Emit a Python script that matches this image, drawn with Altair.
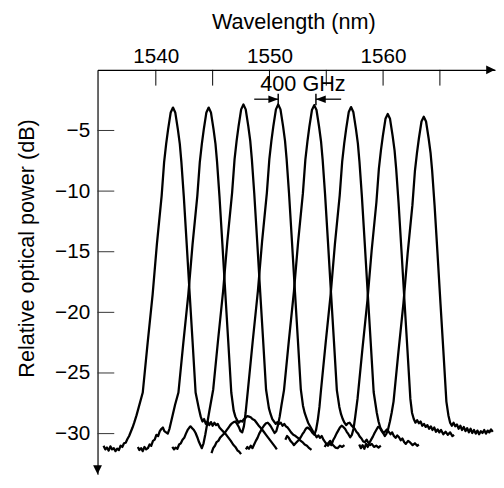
import altair as alt
import pandas as pd

# ---------------- data ----------------
# channel centre wavelengths (nm) and peak levels (dB)
centers = [1541.51, 1544.65, 1547.71, 1550.77, 1553.94, 1557.18, 1560.41, 1563.58]
peaks = [-3.11, -3.11, -2.86, -2.86, -2.91, -3.07, -3.64, -3.86]

# passband skirt: offset from centre (nm) -> drop below peak (dB)
left_off = [-2.66, -2.23, -1.79, -1.42, -1.00, -0.78, -0.60, -0.43, -0.20, 0.00]
left_drop = [23.5, 19.4, 15.4, 11.3, 7.3, 4.5, 3.0, 1.8, 0.4, 0.0]
right_off = [0.20, 0.43, 0.60, 0.74, 0.95, 1.21, 1.47, 1.73, 1.99]
right_drop = [0.4, 1.8, 3.0, 4.5, 7.3, 11.3, 15.4, 19.4, 23.5]

# noise-floor parts of each trace (wavelength nm, dB)
ch1_left = [(1535.40, -31.0), (1535.55, -31.3), (1535.70, -31.15), (1535.85, -31.4), (1536.00, -31.05),
            (1536.15, -31.3), (1536.30, -31.2), (1536.45, -31.45), (1536.60, -31.25), (1536.75, -31.35),
            (1536.90, -31.0), (1537.05, -31.1), (1537.20, -30.8), (1537.35, -30.75), (1537.50, -30.45),
            (1537.65, -30.2), (1537.80, -29.85), (1537.95, -29.5), (1538.10, -29.1), (1538.30, -28.5)]
ch1_right = [(1543.80, -28.0), (1543.95, -28.6), (1544.10, -29.0), (1544.25, -28.8), (1544.40, -29.2),
             (1544.55, -29.0), (1544.70, -29.3), (1544.85, -29.05), (1545.00, -29.35), (1545.15, -29.1),
             (1545.30, -29.3), (1545.45, -29.2), (1545.60, -29.5), (1545.80, -29.7), (1546.00, -29.9),
             (1546.20, -30.1), (1546.40, -30.35), (1546.60, -30.6), (1546.80, -30.9), (1547.00, -31.1),
             (1547.20, -31.4), (1547.35, -31.5), (1547.50, -31.7)]
ch2_left = [(1538.42, -31.1), (1538.55, -31.35), (1538.70, -31.2), (1538.85, -31.45), (1539.00, -31.1),
            (1539.15, -31.3), (1539.30, -31.2), (1539.45, -30.9), (1539.60, -31.0), (1539.75, -30.6),
            (1539.90, -30.5), (1540.05, -30.1), (1540.20, -30.2), (1540.35, -29.8), (1540.50, -29.6),
            (1540.62, -29.5), (1540.75, -29.8), (1540.90, -29.9), (1541.05, -30.0), (1541.20, -29.6),
            (1541.35, -29.0), (1541.50, -28.4), (1541.70, -27.6)]
ch2_right = [(1546.85, -28.1), (1547.00, -28.6), (1547.15, -28.9), (1547.30, -29.1), (1547.45, -28.95),
             (1547.60, -29.0), (1547.75, -28.8), (1547.90, -28.7), (1548.05, -28.55), (1548.20, -28.6),
             (1548.35, -28.65), (1548.50, -28.8), (1548.70, -28.9), (1548.90, -29.15), (1549.10, -29.4),
             (1549.30, -29.6), (1549.50, -29.85), (1549.70, -30.1), (1549.90, -30.35), (1550.10, -30.6),
             (1550.30, -30.85), (1550.50, -31.1), (1550.65, -31.3)]
ch3_left = [(1541.45, -31.1), (1541.60, -31.3), (1541.75, -31.15), (1541.90, -31.25), (1542.05, -30.9),
            (1542.20, -30.8), (1542.35, -30.5), (1542.50, -30.35), (1542.65, -30.0), (1542.80, -29.7),
            (1542.95, -29.5), (1543.05, -29.4), (1543.20, -29.55), (1543.35, -29.7), (1543.50, -29.95),
            (1543.65, -30.3), (1543.80, -30.7), (1543.95, -31.0), (1544.05, -31.2), (1544.20, -30.8),
            (1544.35, -30.1), (1544.50, -29.3), (1544.70, -28.2)]
ch3_right = [(1549.95, -27.9), (1550.10, -28.4), (1550.25, -28.8), (1550.40, -29.0), (1550.55, -29.2),
             (1550.70, -29.05), (1550.85, -29.2), (1551.00, -29.1), (1551.15, -29.35), (1551.30, -29.2),
             (1551.45, -29.4), (1551.60, -29.5), (1551.75, -29.7), (1551.90, -29.9), (1552.10, -30.1),
             (1552.30, -30.2), (1552.50, -30.35), (1552.70, -30.55), (1552.90, -30.7), (1553.10, -30.9),
             (1553.30, -31.0), (1553.50, -31.2), (1553.70, -31.35)]
ch4_left = [(1544.90, -31.6), (1545.05, -31.2), (1545.20, -31.0), (1545.35, -30.7), (1545.50, -30.6),
            (1545.65, -30.35), (1545.80, -30.2), (1545.95, -30.05), (1546.10, -29.9), (1546.25, -29.7),
            (1546.40, -29.5), (1546.55, -29.3), (1546.70, -29.15), (1546.85, -29.05), (1547.00, -29.0),
            (1547.15, -29.2), (1547.30, -29.45), (1547.45, -29.8), (1547.60, -29.9), (1547.75, -29.4),
            (1547.90, -28.3)]
ch4_right = [(1552.95, -27.7), (1553.10, -28.3), (1553.25, -28.7), (1553.40, -29.1), (1553.55, -29.35),
             (1553.70, -29.6), (1553.85, -29.85), (1554.00, -30.05), (1554.15, -30.3), (1554.30, -30.15),
             (1554.45, -30.35), (1554.60, -30.2), (1554.75, -30.5), (1554.90, -30.7), (1555.05, -30.9),
             (1555.20, -30.75), (1555.35, -30.6), (1555.50, -30.85), (1555.65, -31.0), (1555.80, -31.15),
             (1556.00, -31.2), (1556.20, -31.0), (1556.40, -31.1), (1556.60, -30.95)]
ch5_left = [(1547.93, -31.3), (1548.05, -31.1), (1548.20, -31.25), (1548.35, -31.0), (1548.50, -31.2),
            (1548.65, -30.9), (1548.80, -30.6), (1548.95, -30.35), (1549.10, -30.0), (1549.25, -29.75),
            (1549.40, -29.5), (1549.55, -29.3), (1549.70, -29.15), (1549.85, -29.1), (1550.00, -29.25),
            (1550.15, -29.45), (1550.30, -29.7), (1550.45, -29.95), (1550.60, -29.8), (1550.75, -29.3),
            (1550.90, -28.6), (1551.05, -27.7)]
ch5_right = [(1556.15, -27.8), (1556.30, -28.4), (1556.45, -28.8), (1556.60, -29.1), (1556.75, -29.3),
             (1556.90, -29.15), (1557.05, -29.1), (1557.20, -29.3), (1557.35, -29.45), (1557.50, -29.6),
             (1557.65, -29.85), (1557.80, -30.0), (1557.95, -30.25), (1558.10, -30.4), (1558.25, -30.65),
             (1558.40, -30.7), (1558.55, -30.5), (1558.70, -30.75), (1558.85, -30.95), (1559.00, -30.85),
             (1559.20, -31.1), (1559.40, -31.0), (1559.60, -31.15), (1559.80, -31.0)]
ch6_left = [(1551.40, -30.5), (1551.55, -30.2), (1551.70, -30.35), (1551.85, -30.6), (1552.00, -30.75),
            (1552.15, -30.95), (1552.30, -30.8), (1552.45, -30.65), (1552.60, -30.5), (1552.75, -30.3),
            (1552.90, -30.05), (1553.05, -29.85), (1553.20, -29.6), (1553.35, -29.5), (1553.50, -29.6),
            (1553.65, -29.75), (1553.80, -29.95), (1553.95, -30.1), (1554.10, -29.7), (1554.25, -28.9),
            (1554.40, -27.8)]
ch6_right = [(1559.45, -28.3), (1559.60, -29.0), (1559.75, -29.5), (1559.90, -29.75), (1560.05, -29.95),
             (1560.20, -29.8), (1560.35, -29.65), (1560.50, -29.85), (1560.65, -30.05), (1560.80, -29.9),
             (1560.95, -30.2), (1561.10, -30.35), (1561.25, -30.15), (1561.40, -30.3), (1561.55, -30.55),
             (1561.70, -30.4), (1561.85, -30.7), (1562.00, -30.85), (1562.20, -30.6), (1562.40, -30.75),
             (1562.60, -30.95), (1562.80, -30.8), (1563.00, -31.0), (1563.15, -30.9)]
ch7_left = [(1554.86, -31.1), (1555.00, -30.85), (1555.15, -31.0), (1555.30, -30.8), (1555.45, -30.95),
            (1555.60, -30.55), (1555.75, -30.3), (1555.90, -30.0), (1556.05, -29.75), (1556.20, -29.5),
            (1556.35, -29.35), (1556.50, -29.45), (1556.65, -29.6), (1556.80, -29.85), (1556.95, -30.05),
            (1557.10, -30.3), (1557.25, -30.1), (1557.40, -29.6), (1557.55, -28.6)]
ch7_right = [(1562.55, -28.3), (1562.70, -28.8), (1562.85, -29.1), (1563.00, -28.9), (1563.15, -29.15),
             (1563.30, -29.0), (1563.45, -29.35), (1563.60, -29.2), (1563.75, -29.45), (1563.90, -29.3),
             (1564.05, -29.6), (1564.20, -29.4), (1564.35, -29.7), (1564.50, -29.5), (1564.65, -29.85),
             (1564.80, -29.65), (1564.95, -29.9), (1565.10, -29.7), (1565.30, -30.05), (1565.50, -29.85),
             (1565.70, -30.1), (1565.90, -29.9), (1566.10, -30.2), (1566.25, -30.1)]
ch8_left = [(1557.90, -30.9), (1558.05, -31.2), (1558.20, -30.95), (1558.35, -31.25), (1558.50, -30.85),
            (1558.65, -31.1), (1558.80, -30.75), (1558.95, -30.5), (1559.10, -30.25), (1559.25, -29.95),
            (1559.40, -29.7), (1559.55, -29.45), (1559.70, -29.5), (1559.85, -29.75), (1560.00, -29.95),
            (1560.15, -30.2), (1560.30, -30.0), (1560.45, -29.6), (1560.60, -29.0), (1560.75, -28.3)]
ch8_right = [(1565.75, -28.5), (1565.90, -29.1), (1566.05, -29.35), (1566.20, -29.1), (1566.35, -29.4),
             (1566.50, -29.25), (1566.65, -29.6), (1566.80, -29.35), (1566.95, -29.7), (1567.10, -29.45),
             (1567.25, -29.8), (1567.40, -29.55), (1567.55, -29.9), (1567.70, -29.6), (1567.85, -29.95),
             (1568.00, -29.7), (1568.15, -30.0), (1568.30, -29.75), (1568.45, -30.05), (1568.60, -29.8),
             (1568.75, -29.95), (1568.90, -29.7), (1569.05, -30.0), (1569.20, -29.75), (1569.35, -29.9),
             (1569.50, -29.65), (1569.65, -29.85)]

floors_left = [ch1_left, ch2_left, ch3_left, ch4_left, ch5_left, ch6_left, ch7_left, ch8_left]
floors_right = [ch1_right, ch2_right, ch3_right, ch4_right, ch5_right, ch6_right, ch7_right, ch8_right]

# axis ticks
x_ticks = [1540, 1545, 1550, 1555, 1560, 1565]
x_labels = [1540, 1550, 1560]
y_ticks = [-5, -10, -15, -20, -25, -30]

# "400 GHz" annotation
ann_text = "400 GHz"
ann_text_wl, ann_text_db = 1552.95, -1.78
ann_arrow_db = -2.42
ann_bar_top, ann_bar_bot = -1.97, -2.91
ann_left_from, ann_left_to = 1548.66, 1550.77
ann_right_from, ann_right_to = 1556.31, 1554.09

x_domain = [1534.87, 1569.85]
y_domain = [-33.35, 0]

# ---------------- build table ----------------
rows = []
for i in range(len(centers)):
    c, p = centers[i], peaks[i]
    pts = list(floors_left[i])
    pts += [(c + o, p - d) for o, d in zip(left_off, left_drop)]
    pts += [(c + o, p - d) for o, d in zip(right_off, right_drop)]
    pts += list(floors_right[i])
    for k, (w, db) in enumerate(pts):
        rows.append({"ch": i + 1, "seq": k, "wl": w, "db": db})
df = pd.DataFrame(rows)

W, H = 404, 411
FONT = "Liberation Sans"

xs = alt.Scale(domain=x_domain, nice=False, zero=False)
ys = alt.Scale(domain=y_domain, nice=False, zero=False)

curves = alt.Chart(df).mark_line(color="black", strokeWidth=2.3, strokeJoin="round").encode(
    x=alt.X("wl:Q", scale=xs,
            axis=alt.Axis(orient="top", values=x_labels, format="d", ticks=False, tickSize=0, grid=False,
                          labelFontSize=21, labelFont=FONT, labelColor="black", labelBaseline="alphabetic",
                          labelPadding=7, domainColor="black", domainWidth=1.2,
                          title="Wavelength (nm)", titleFont=FONT, titleFontSize=22,
                          titleFontWeight="normal", titleColor="black", titleBaseline="alphabetic",
                          titleY=-42, titleX=199)),
    y=alt.Y("db:Q", scale=ys,
            axis=alt.Axis(orient="left", values=y_ticks, format="d", ticks=False, tickSize=0, grid=False,
                          labelFontSize=21, labelFont=FONT, labelColor="black", labelPadding=8,
                          labelExpr="replace(datum.label, '-', '\u2212')",
                          domainColor="black", domainWidth=1.2,
                          title="Relative optical power (dB)", titleFont=FONT, titleFontSize=22,
                          titleFontWeight="normal", titleColor="black", titleBaseline="alphabetic",
                          titleX=-65, titleY=181)),
    detail="ch:N",
    order="seq:Q",
)

xt = alt.Chart(pd.DataFrame({"v": x_ticks})).mark_rule(color="black", strokeWidth=1).encode(
    x=alt.X("v:Q", scale=xs), y=alt.value(0), y2=alt.value(16))
yt = alt.Chart(pd.DataFrame({"v": y_ticks})).mark_rule(color="#333", strokeWidth=1).encode(
    y=alt.Y("v:Q", scale=ys), x=alt.value(0), x2=alt.value(17))

one = pd.DataFrame({"a": [0]})
x_arrow = alt.Chart(one).mark_point(shape="M0,0L-2,-1L-2,1Z", filled=True, size=81, color="black",
                                    opacity=1, strokeWidth=0).encode(x=alt.value(W), y=alt.value(0))
y_arrow = alt.Chart(one).mark_point(shape="M0,0L-1,-2L1,-2Z", filled=True, size=81, color="black",
                                    opacity=1, strokeWidth=0).encode(x=alt.value(0), y=alt.value(H))

ann = pd.DataFrame({
    "x1": [ann_left_from, ann_right_from], "x2": [ann_left_to, ann_right_to],
    "y": [ann_arrow_db, ann_arrow_db],
})
ann_lines = alt.Chart(ann).mark_rule(color="black", strokeWidth=1.3).encode(
    x=alt.X("x1:Q", scale=xs), x2="x2:Q", y=alt.Y("y:Q", scale=ys))
bars = pd.DataFrame({"x": [ann_left_to, ann_right_to], "y1": [ann_bar_top] * 2, "y2": [ann_bar_bot] * 2})
ann_bars = alt.Chart(bars).mark_rule(color="black", strokeWidth=1.5).encode(
    x=alt.X("x:Q", scale=xs), y=alt.Y("y1:Q", scale=ys), y2="y2:Q")
head_r = alt.Chart(pd.DataFrame({"x": [ann_left_to], "y": [ann_arrow_db]})).mark_point(
    shape="M0,0L-2,-0.75L-2,0.75Z", filled=True, size=100, color="black", opacity=1, strokeWidth=0).encode(
    x=alt.X("x:Q", scale=xs), y=alt.Y("y:Q", scale=ys))
head_l = alt.Chart(pd.DataFrame({"x": [ann_right_to], "y": [ann_arrow_db]})).mark_point(
    shape="M0,0L2,-0.75L2,0.75Z", filled=True, size=100, color="black", opacity=1, strokeWidth=0).encode(
    x=alt.X("x:Q", scale=xs), y=alt.Y("y:Q", scale=ys))
ann_label = alt.Chart(pd.DataFrame({"x": [ann_text_wl], "y": [ann_text_db], "t": [ann_text]})).mark_text(
    font=FONT, fontSize=22, color="black", align="center", baseline="alphabetic").encode(
    x=alt.X("x:Q", scale=xs), y=alt.Y("y:Q", scale=ys), text="t:N")

chart = alt.layer(curves, xt, yt, x_arrow, y_arrow, ann_lines, ann_bars, head_r, head_l, ann_label).properties(
    width=W, height=H,
    autosize=alt.AutoSizeParams(type="none"),
    padding={"left": 91, "top": 59, "right": 1, "bottom": 2},
    background="white",
).configure_view(stroke=None)

chart.save("out.html", embed_options={"renderer": "svg", "actions": False})
